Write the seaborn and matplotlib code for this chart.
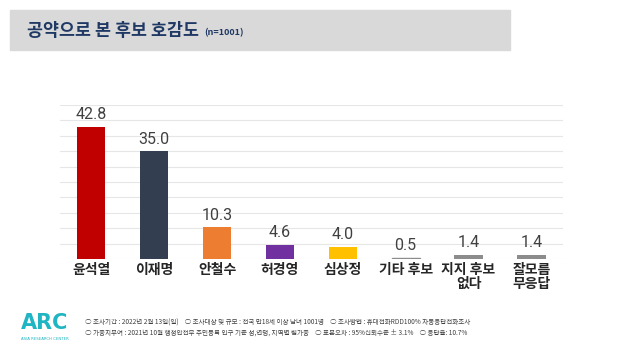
import matplotlib
matplotlib.use("Agg")
import matplotlib.pyplot as plt
import matplotlib.patches as mpatches
import seaborn as sns
import pandas as pd

candidates = ["윤석열", "이재명", "안철수", "허경영", "심상정", "기타 후보", "지지 후보\n없다", "잘모름\n무응답"]
support = [42.8, 35.0, 10.3, 4.6, 4.0, 0.5, 1.4, 1.4]
bar_colors = ["#c00000", "#333f50", "#ed7d31", "#7030a0", "#ffc000", "#8c8c8c", "#8c8c8c", "#8c8c8c"]

title = "공약으로 본 후보 호감도"
subtitle = "(n=1001)"
notes = [
    "○ 조사기간 : 2022년 2월 13일(일)    ○ 조사대상 및 규모 : 전국 만18세 이상 남녀 1001명    ○ 조사방법 : 휴대전화RDD100% 자동응답전화조사",
    "○ 가중치부여 : 2021년 10월 행정안전부 주민등록 인구 기준 성,연령, 지역별 림가중    ○ 표본오차 : 95%신뢰수준 ± 3.1%    ○ 응답율: 10.7%",
]

sns.set_style("white")
plt.rcParams['font.family'] = ['Noto Sans CJK KR', 'DejaVu Sans']

d = pd.DataFrame({"candidate": candidates, "support": support})

fig = plt.figure(figsize=(6.24, 3.52), dpi=100)
ax = fig.add_axes([0.096, 0.264, 0.806, 0.438])

sns.barplot(data=d, x="candidate", y="support", hue="candidate", palette=bar_colors,
            width=0.45, legend=False, ax=ax, saturation=1, linewidth=0.6, edgecolor="none")

ax.set_ylim(0, 50)
ax.set_xlim(-0.5, len(candidates) - 0.5)
ax.set_yticks(range(0, 51, 5))
ax.yaxis.grid(True, color="#e6e6e6", linewidth=0.8)
ax.set_axisbelow(True)
ax.tick_params(axis="y", left=False, labelleft=False)
ax.tick_params(axis="x", length=0, pad=3)
for lab in ax.get_xticklabels():
    lab.set_fontsize(10)
    lab.set_fontweight("bold")
    lab.set_color("#262626")
    lab.set_linespacing(0.95)
ax.set_xlabel("")
ax.set_ylabel("")
sns.despine(ax=ax, left=True, bottom=True, top=True, right=True)

# keep the tiny bars visible, as in the source slide
for p in ax.patches:
    if p.get_height() < 1:
        p.set_edgecolor(p.get_facecolor())
        p.set_linewidth(1.0)

for i, v in enumerate(support):
    ax.text(i, v + 1.5, "{:.1f}".format(v), ha="center", va="bottom", fontsize=11.5,
            color="#404040", family=["Roboto", "DejaVu Sans"])

# header band
fig.patches.append(mpatches.Rectangle((10 / 624, 1 - 50 / 352), 500 / 624, 40 / 352,
                                      transform=fig.transFigure, color="#d9d9d9", zorder=0))
fig.text(27 / 624, 1 - 31 / 352, title, fontsize=12.5, fontweight="heavy", color="#1f3864", va="center")
fig.text(204 / 624, 1 - 33 / 352, subtitle, fontsize=6.5, fontweight="bold", color="#1f3864", va="center")

# logo
fig.text(45 / 624, 1 - 323 / 352, "ARC", fontsize=15, fontweight="bold", color="#1fb5c2",
         ha="center", va="center", family="DejaVu Sans")
fig.text(45 / 624, 1 - 339 / 352, "ASIA RESEARCH CENTER", fontsize=2.8, color="#1fb5c2",
         ha="center", va="center", family="DejaVu Sans")

for k, line in enumerate(notes):
    fig.text(85 / 624, 1 - (323 + k * 10) / 352, line, fontsize=4.7, color="#404040", va="center")

fig.savefig("out.png", dpi=100)
